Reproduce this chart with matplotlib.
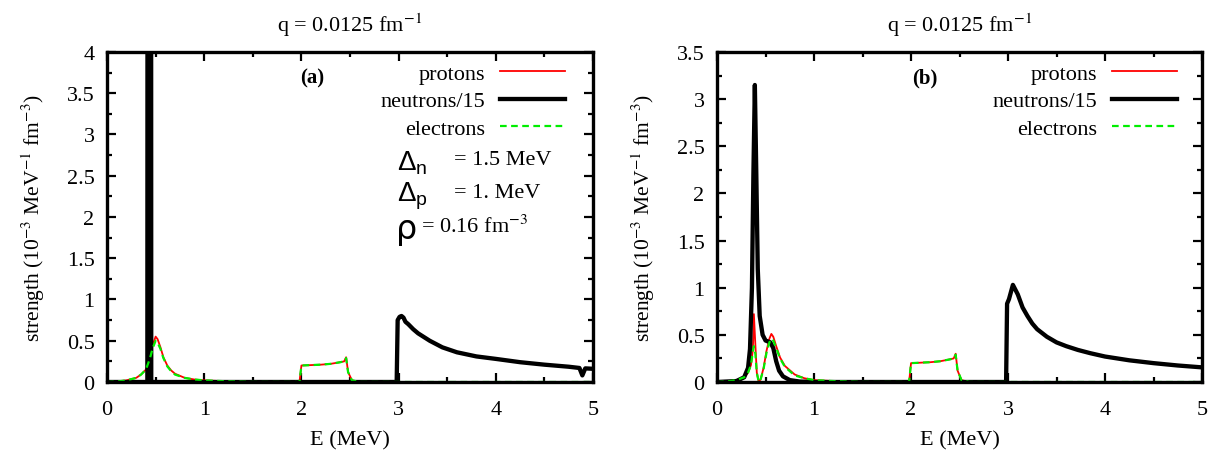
import numpy as np
import matplotlib.pyplot as plt

# panel (a) curves
ea_p = [0.0, 0.1, 0.2, 0.3, 0.35, 0.4, 0.44, 0.47, 0.5, 0.52, 0.55, 0.58, 0.62, 0.66, 0.7, 0.8, 0.9, 1.0, 1.2, 1.5,
        1.98, 2.0, 2.1, 2.2, 2.3, 2.4, 2.44, 2.46, 2.48, 2.52, 2.6, 5.0]
sa_p = [0.0, 0.005, 0.02, 0.05, 0.09, 0.15, 0.3, 0.45, 0.55, 0.52, 0.42, 0.3, 0.2, 0.14, 0.1, 0.05, 0.03, 0.02, 0.01, 0.0,
        0.0, 0.2, 0.205, 0.21, 0.22, 0.24, 0.25, 0.3, 0.12, 0.02, 0.0, 0.0]
sa_e = [0.0, 0.005, 0.02, 0.05, 0.09, 0.15, 0.28, 0.41, 0.5, 0.48, 0.4, 0.29, 0.19, 0.13, 0.09, 0.05, 0.03, 0.02, 0.01, 0.0,
        0.0, 0.2, 0.205, 0.21, 0.22, 0.24, 0.25, 0.29, 0.12, 0.02, 0.0, 0.0]
ea_n = [0.0, 0.415, 0.42, 0.45, 0.455, 2.98, 2.99, 3.01, 3.03, 3.05, 3.07, 3.1, 3.15, 3.2, 3.32, 3.45, 3.6, 3.8, 4.0,
        4.25, 4.5, 4.75, 4.86, 4.89, 4.92, 5.0]
sa_n = [0.0, 0.0, 20.0, 20.0, 0.0, 0.0, 0.75, 0.79, 0.8, 0.78, 0.73, 0.7, 0.64, 0.59, 0.5, 0.42, 0.36, 0.31, 0.28,
        0.24, 0.21, 0.185, 0.17, 0.08, 0.165, 0.16]

# panel (b) curves
eb_p = [0.0, 0.1, 0.2, 0.28, 0.32, 0.35, 0.37, 0.38, 0.395, 0.41, 0.43, 0.45, 0.48, 0.51, 0.54, 0.56, 0.58, 0.61,
        0.65, 0.7, 0.8, 0.9, 1.0, 1.2, 1.5, 1.98, 2.0, 2.1, 2.2, 2.3, 2.4, 2.44, 2.46, 2.48, 2.52, 2.6, 5.0]
sb_p = [0.0, 0.005, 0.02, 0.05, 0.1, 0.18, 0.35, 0.72, 0.4, 0.1, 0.0, 0.03, 0.15, 0.33, 0.46, 0.51, 0.48, 0.38,
        0.26, 0.17, 0.08, 0.04, 0.02, 0.01, 0.0, 0.0, 0.2, 0.205, 0.21, 0.22, 0.24, 0.25, 0.3, 0.12, 0.02, 0.0, 0.0]
sb_e = [0.0, 0.005, 0.02, 0.05, 0.1, 0.18, 0.33, 0.38, 0.3, 0.1, 0.0, 0.03, 0.14, 0.31, 0.42, 0.46, 0.44, 0.36,
        0.25, 0.16, 0.07, 0.04, 0.02, 0.01, 0.0, 0.0, 0.2, 0.205, 0.21, 0.22, 0.24, 0.25, 0.29, 0.12, 0.02, 0.0, 0.0]
eb_n = [0.0, 0.2, 0.28, 0.32, 0.34, 0.36, 0.375, 0.39, 0.405, 0.42, 0.44, 0.47, 0.5, 0.55, 0.58, 0.61, 0.64, 0.68,
        0.75, 0.85, 1.0, 2.98, 2.99, 3.01, 3.05, 3.1, 3.15, 3.2, 3.25, 3.3, 3.4, 3.5, 3.6, 3.72, 3.85, 4.0, 4.25,
        4.5, 4.75, 5.0]
sb_n = [0.0, 0.01, 0.05, 0.15, 0.35, 1.0, 2.2, 3.15, 2.2, 1.2, 0.7, 0.5, 0.44, 0.42, 0.36, 0.22, 0.12, 0.06,
        0.02, 0.005, 0.0, 0.0, 0.83, 0.88, 1.03, 0.93, 0.79, 0.7, 0.62, 0.56, 0.48, 0.42, 0.38, 0.34, 0.305, 0.27,
        0.23, 0.2, 0.175, 0.155]

plt.rcParams['font.family'] = ['Liberation Serif']
plt.rcParams['mathtext.fontset'] = 'stix'

fig = plt.figure(figsize=(12.12, 4.6), dpi=100)
ax1 = fig.add_axes([0.0883, 0.1674, 0.401, 0.7174])
ax2 = fig.add_axes([0.5916, 0.1674, 0.4002, 0.7174])

panels = [(ax1, ea_p, sa_p, sa_e, ea_n, sa_n, 4.0, '(a)', 0.422, 0.942),
          (ax2, eb_p, sb_p, sb_e, eb_n, sb_n, 3.5, '(b)', 0.429, 0.948)]

fs = 16
for ax, ep, sp, se, en, sn, ymax, tag, tagx, legx in panels:
    ax.plot(ep, sp, color='#ff0000', lw=1.3, label='protons')
    ax.plot(en, sn, color='black', lw=3.1, label='neutrons/15')
    ax.plot(ep, se, color='#00ee00', lw=1.6, ls=(0, (3, 2)), label='electrons')
    ax.set_xlim(0, 5)
    ax.set_ylim(0, ymax)
    ax.set_xticks(np.arange(0, 5.01, 1))
    ax.set_xticks(np.arange(0.5, 5, 1), minor=True)
    ax.set_yticks(np.arange(0, ymax + 0.01, 0.5))
    ax.set_yticks(np.arange(0.25, ymax, 0.5), minor=True)
    ax.set_yticklabels(['0'] + ['%g' % v for v in np.arange(0.5, ymax + 0.01, 0.5)])
    ax.tick_params(direction='in', which='both', top=True, right=True, labelsize=fs)
    ax.tick_params(axis='x', pad=13)
    ax.tick_params(axis='y', pad=9)
    ax.tick_params(which='major', length=6.5, width=1.6)
    ax.tick_params(which='minor', length=3.5, width=1.6)
    for s in ax.spines.values():
        s.set_linewidth(2.4)
    ax.set_xlabel('E (MeV)', fontsize=fs, labelpad=8)
    ax.set_ylabel(r'strength (10$^{-3}$ MeV$^{-1}$ fm$^{-3}$)', fontsize=15.5, labelpad=14)
    ax.set_title(r'q = 0.0125 fm$^{-1}$', fontsize=fs, pad=15)
    ax.text(tagx, 0.922, tag, transform=ax.transAxes, fontsize=15, fontweight='bold', ha='center', va='center')
    ax.legend(loc='upper right', frameon=False, markerfirst=False, fontsize=fs,
              handlelength=2.9, handletextpad=0.7, labelspacing=0.3, borderpad=0, borderaxespad=0,
              bbox_to_anchor=(legx, 0.965))

ax1.text(0.597, 0.665, r'$\mathregular{Δ_n}$', transform=ax1.transAxes, fontsize=20, family='Liberation Sans', va='center')
ax1.text(0.714, 0.675, '= 1.5 MeV', transform=ax1.transAxes, fontsize=fs, va='center')
ax1.text(0.597, 0.565, r'$\mathregular{Δ_p}$', transform=ax1.transAxes, fontsize=20, family='Liberation Sans', va='center')
ax1.text(0.714, 0.575, '= 1. MeV', transform=ax1.transAxes, fontsize=fs, va='center')
ax1.text(0.595, 0.465, 'ρ', transform=ax1.transAxes, fontsize=24, family='DejaVu Sans', va='center')
ax1.text(0.646, 0.475, r'= 0.16 fm$^{-3}$', transform=ax1.transAxes, fontsize=fs, va='center')

fig.savefig('out.png', dpi=100)
